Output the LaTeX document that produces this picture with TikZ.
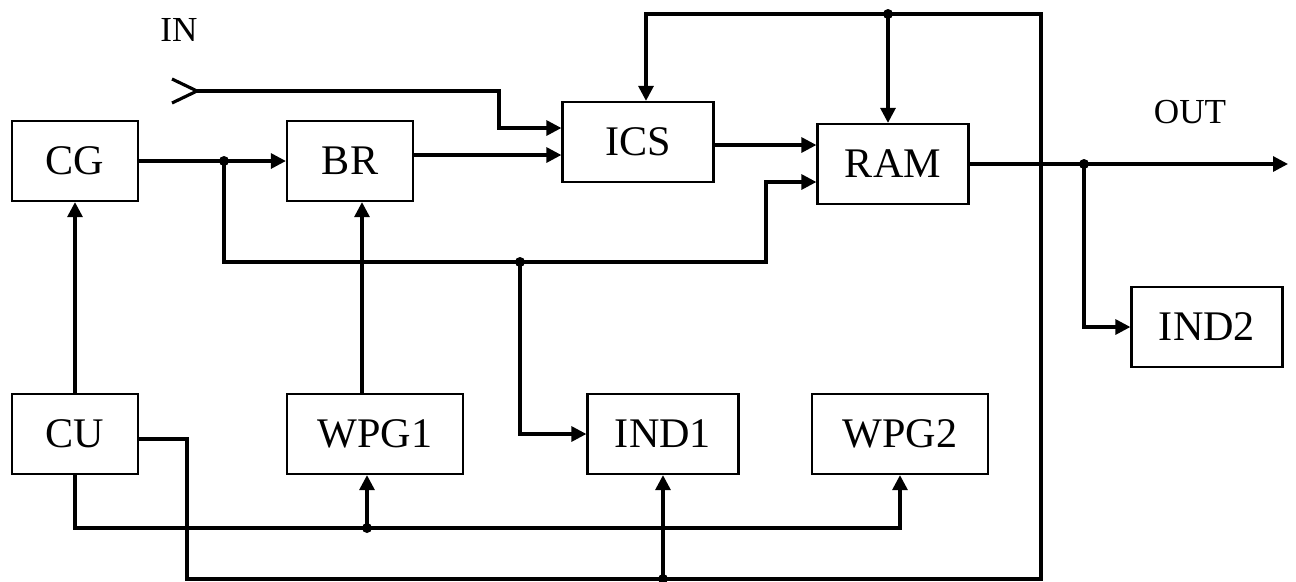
\documentclass[tikz,border=0pt]{standalone}
\usepackage{fontspec}
\setmainfont{Liberation Serif}
\usetikzlibrary{arrows.meta, positioning, calc}
\tikzset{
  blk/.style={rectangle, draw, line width=1.3pt, inner sep=0pt, fill=white,
              minimum width=2.52cm, minimum height=1.6cm, font=\fontsize{24}{28}\selectfont},
  blkwide/.style={blk, minimum width=3.02cm},
  blkwider/.style={blk, minimum width=3.52cm},
  wire/.style={line width=1.8pt},
  arr/.style={-{Triangle[length=0.3cm, width=0.3cm]}, line width=1.8pt},
  jdot/.style={circle, fill, inner sep=0pt, minimum size=0.2cm},
  lbl/.style={font=\fontsize{20}{24}\selectfont},
}

\begin{document}
\begin{tikzpicture}[x=0.02cm, y=-0.02cm]
\useasboundingbox (0,0) rectangle (1296,582);
% Bloki
\node[blk] (cg) at (75,161) {CG};
\node[blk] (br) at (350,161) {BR};
\node[blkwide] (ics) at (638,142) {ICS};
\node[blkwide] (ram) at (893,164) {RAM};
\node[blkwide] (ind2) at (1207,327) {IND2};
\node[blk] (cu) at (75,434) {CU};
\node[blkwider] (wpg1) at (375,434) {WPG1};
\node[blkwide] (ind1) at (663,434) {IND1};
\node[blkwider] (wpg2) at (900,434) {WPG2};
\node[lbl] (inlbl) at (179,30) {IN};
\node[lbl] (outlbl) at (1190,112) {OUT};

% Wejscie / wyjscie
\coordinate (inpt) at (197,91);
\coordinate (outpt) at (1288,164);

% Wezly
\node[jdot] (j1) at (224,161) {};
\node[jdot] (j2) at (520,262) {};
\node[jdot] (j3) at (888,14) {};
\node[jdot] (j4) at (1084,164) {};
\node[jdot] (j5) at (367,528) {};
\node[jdot] (j6) at (663,579) {};

% Polaczenia gorne
\draw[wire] (inpt) ++(-25,-12) -- (inpt) -- ++(-25,12);
\draw[arr] (inpt) -| (499,128) -- (ics.west |- 0,128);
\draw[arr] (cg.east) -- (br.west);
\draw[arr] (br.east |- 0,155) -- (ics.west |- 0,155);
\draw[arr] (ics.east |- 0,145) -- (ram.west |- 0,145);
\draw[arr] (j1.center) |- (j2.center) -| (766,182) -- (ram.west |- 0,182);
\draw[arr] (j2.center) |- (ind1.west);
\draw[arr] (ram.east) -- (outpt);
\draw[arr] (j4.center) |- (ind2.west);
\draw[arr] (j3.center) -- (ram.north -| j3);

% Polaczenia dolne
\draw[arr] (cu.north) -- (cg.south);
\draw[arr] (wpg1.north -| 362,0) -- (br.south -| 362,0);
\draw[arr] (cu.south) |- (j5.center) -| (wpg2.south);
\draw[arr] (j5.center) -- (wpg1.south -| j5);
\draw[arr] (cu.east |- 0,439) -| (187,579) -| (1041,14) -| (ics.north -| 646,0);
\draw[arr] (j6.center) -- (ind1.south);

\end{tikzpicture}
\end{document}
